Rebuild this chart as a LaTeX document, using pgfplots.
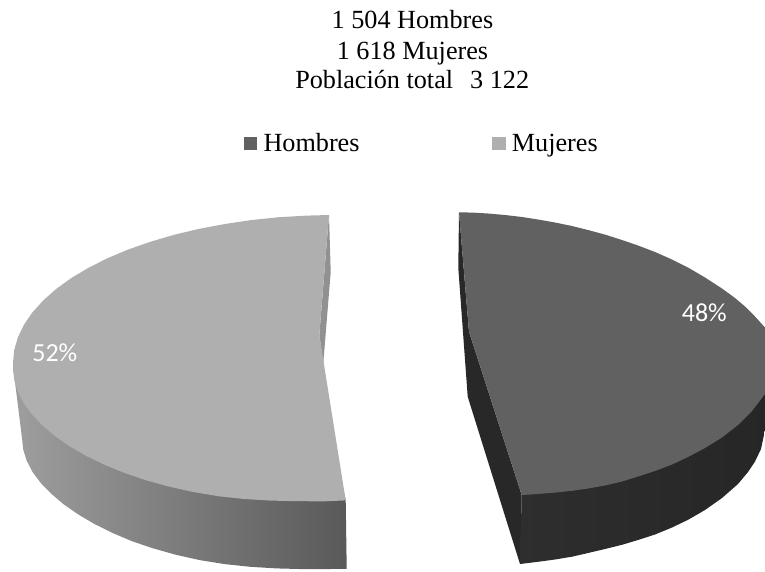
\documentclass[border=0pt]{standalone}
\usepackage{pgfplots}
\pgfplotsset{compat=1.18}
\usepackage{fontspec}
\setmainfont{Liberation Serif}
\newfontfamily\labelfont{Carlito}
\definecolor{hombres}{HTML}{616161}
\definecolor{mujeres}{HTML}{AFAFAF}
\definecolor{hombresside}{HTML}{282828}
\newcommand{\bigtext}{\fontsize{26.2}{30}\selectfont}
\begin{document}
\begin{tikzpicture}
\begin{axis}[
  width=765pt, height=571pt, scale only axis,
  xmin=0, xmax=765, ymin=0, ymax=571, y dir=reverse,
  axis lines=none, clip=true,
]
% Keep the whole plotting area inside the picture's bounding box
\path (axis cs:0,0) rectangle (axis cs:765,571);
% Mujeres: outer wall, inner sliver, top face
\addplot[draw=none, left color=black!38, right color=black!65] coordinates {
 (13,366) (22,438) (23.2,449.4) (26.7,460.7) (32.5,471.9) (40.6,482.8) (50.9,493.4)
 (63.3,504) (77.7,514.1) (94.1,523.8) (112.2,532.8) (132,541.2) (153.3,548.4)
 (176,554.8) (199.8,560.1) (224.7,564.1) (250.3,566.8) (276.5,568.4) (303.2,569.1)
 (330,569) (346.7,568.8) (345.7,500) (323,400)
} -- cycle;
\addplot[draw=none, fill=black!43] coordinates {
 (329,215) (330.7,272) (323.3,363) (319.3,335)
} -- cycle;
\addplot[draw=none, fill=mujeres] coordinates {
 (329,215) (306.9,215.6) (279.1,217.2) (251.7,220) (224.9,224) (198.9,228.9)
 (174,234.8) (150.3,241.8) (128,249.6) (107.3,258.3) (88.3,267.9) (71.2,278.1)
 (56.1,289) (43.2,300.5) (32.4,312.4) (24,324.7) (17.9,337.3) (14.2,350.1) (13,363)
 (13,368) (14.2,379.6) (17.7,391.3) (23.6,402.9) (31.8,414.2) (42.2,425.2) (54.8,436)
 (69.4,446.2) (86,455.8) (104.4,464.7) (124.4,472.9) (146,480.3) (169,486.6)
 (193.1,492) (218.3,496.2) (244.2,499) (270.8,500.6) (297.8,501.2) (325,501.3)
 (345.7,500.4) (319.3,335)
} -- cycle;
% Hombres: cut wall, outer wall, top face
\addplot[draw=none, fill=hombresside] coordinates {
 (459,212.3) (458.3,268) (467.7,396.7) (520,564) (521.7,495) (469,331.7)
} -- cycle;
\addplot[draw=none, left color=black!82, right color=black!85] coordinates {
 (521.7,495) (520,564) (538,561.8) (555,559.5) (572,556.7) (588,553) (605,549)
 (622,544.8) (638,540) (655,534.5) (672,527.5) (688,519.8) (705,510) (722,498)
 (738,484) (748,472) (755,461.5) (761,449) (765,430) (765,390) (640,440)
} -- cycle;
\addplot[draw=none, fill=hombres] coordinates {
 (459,212.3) (473,212.6) (488,213.5) (505,215) (522,217) (538,219.5) (555,222.5)
 (572,226) (588,230) (605,234.6) (622,240) (638,245.5) (655,252) (672,259.5)
 (688,267.5) (705,277.5) (722,288.5) (735,298) (745,306.5) (755,316.5) (765,327.5)
 (765,340) (765,385) (765,394) (752,411) (738,425) (722,437.5) (705,448) (688,457)
 (672,464.5) (655,471) (638,476.5) (622,481.5) (605,485.5) (588,488.5) (572,490.8)
 (555,492.6) (538,494) (521.7,495) (469,331.7)
} -- cycle;
% Legend keys
\addplot[draw=none, fill=hombres] coordinates {(244.3,136.7) (257.3,136.7) (257.3,150) (244.3,150)} -- cycle;
\addplot[draw=none, fill=mujeres] coordinates {(492.3,136.7) (506,136.7) (506,150) (492.3,150)} -- cycle;
% Heading and legend text
\node[anchor=base, inner sep=0pt, font=\bigtext] at (axis cs:412.5,28.3) {1 504 Hombres};
\node[anchor=base, inner sep=0pt, font=\bigtext] at (axis cs:412.5,59.3) {1 618 Mujeres};
\node[anchor=base, inner sep=0pt, font=\bigtext] at (axis cs:412.2,88.3) {Población total\hspace{0.65em}3 122};
\node[anchor=base west, inner sep=0pt, font=\bigtext] at (axis cs:263.3,151.7) {Hombres};
\node[anchor=base west, inner sep=0pt, font=\bigtext] at (axis cs:511.7,151.7) {Mujeres};
% Share labels
\node[anchor=base, inner sep=0pt, text=white, font=\labelfont\fontsize{26}{30}\selectfont] at (axis cs:704.3,321) {48\%};
\node[anchor=base, inner sep=0pt, text=white, font=\labelfont\fontsize{26}{30}\selectfont] at (axis cs:54.8,361.7) {52\%};
\end{axis}
\end{tikzpicture}
\end{document}
